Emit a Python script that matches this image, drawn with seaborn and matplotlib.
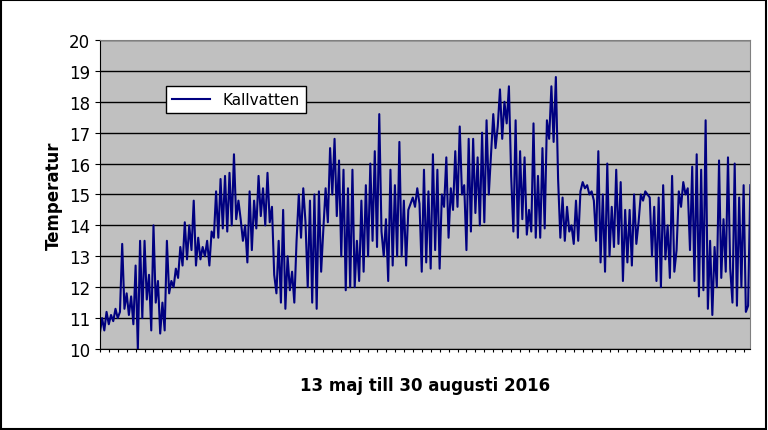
import matplotlib
matplotlib.use('Agg')
import matplotlib.pyplot as plt
import seaborn as sns
import pandas as pd

# hand read temperature swings, in time order (13 maj - 30 aug 2016)
seg1 = [10.5,11.0,10.6,11.2,10.8,11.1,10.9,11.3,11.0,11.2]
seg2 = [13.4,11.3,11.8,11.1,11.7,10.8,12.7,10.0,13.5,11.0,13.5,11.6,12.4,10.6,14.0,11.5,12.2,10.5,11.5,10.6,13.5,11.8]
seg3 = [12.2,12.0,12.6,12.3,13.3,12.7,14.1,12.9,14.0,13.2,14.8,12.7,13.6,12.9,13.3,13.0,13.5,12.7,13.8,13.6,15.1,13.6,15.5,13.9,15.6,13.8,15.7,14.0,16.3,14.2,14.8]
seg4 = [14.2,13.5,14.0,12.8,15.1,13.2,14.8,13.9,15.6,14.3,15.2,14.0,15.7,14.1,14.6,12.4]
seg5 = [11.8,13.5,11.5,14.5,11.3,13.0,11.9,12.5,11.5,13.5,15.0,13.6,15.2,14.1,12.0,14.8,11.5,15.0,11.3,15.1,12.5,13.9,15.2,14.1,16.5,15.0,16.8,14.3,16.1,13.0]
seg6 = [15.8,11.9,15.2,12.0,15.8,12.0,13.5,12.2,14.8,12.5,15.3,13.0,16.0,13.5,16.4,13.3,17.6,13.8,13.0,14.2,12.2,15.8,12.7,15.3,13.0]
seg7 = [16.7,13.0,14.8,12.7,14.5,14.7,14.9,14.6,15.2,14.7,12.5,15.8,12.8,15.1,12.6,16.3,13.2,15.8,12.6,15.0,14.6]
seg8 = [16.2,13.6,15.2,14.5,16.4,14.6,17.2,15.0,15.3,13.2,16.8,13.8,16.8,14.4,16.2,14.0,17.0,14.1,17.4,15.0,16.3,17.6,16.5,17.2]
seg9 = [18.4,16.8,18.0,17.3,18.5,15.6,13.8,17.4,13.6,16.4,14.2,16.2,13.7,14.5,13.8,17.3,13.6,15.6,13.6,16.5,13.9,17.4,16.8,18.5,16.7,18.8,15.5]
seg10 = [13.6,14.9,13.5,14.6,13.8,14.0,13.4,14.8,13.5,15.1,15.4,15.2,15.3,15.0,15.1,14.8,13.5,16.4,12.8,15.0,12.5,16.0,13.0,14.6,13.3,15.8,13.4,15.4,12.2]
seg11 = [14.5,12.8,14.5,12.7,15.0,13.4,14.1,15.0,14.8,15.1,15.0,14.9,13.0,14.6,12.2,14.9,12.0,15.3,12.9,14.0,12.3,15.6,12.5]
seg12 = [13.2,15.1,14.6,15.4,15.0,15.2,13.2,15.9,12.2,16.3,11.7,15.8,11.9,17.4,11.3,13.5,11.1,13.3,12.0]
seg13 = [16.1,12.3,14.2,12.5,16.2,12.6,11.5,16.0,11.4,14.9,12.0,15.3,11.2,11.4,15.3]

temps = seg1+seg2+seg3+seg4+seg5+seg6+seg7+seg8+seg9+seg10+seg11+seg12+seg13
df = pd.DataFrame({'t': range(len(temps)), 'Kallvatten': temps})

fig = plt.figure(figsize=(7.68, 4.31), dpi=100)
ax = fig.add_axes([0.130, 0.188, 0.847, 0.717])
ax.set_facecolor('#c0c0c0')
sns.lineplot(data=df, x='t', y='Kallvatten', color='#000080', linewidth=1.5, ax=ax, label='Kallvatten')

ax.set_ylim(10, 20)
ax.set_xlim(0, len(temps)-1)
ax.set_yticks(range(10, 21))
ax.tick_params(axis='y', labelsize=12)
ax.set_xticks(range(0, len(temps), 4))
ax.set_xticklabels([])
ax.tick_params(axis='x', length=2)
ax.grid(axis='y', color='black', linewidth=1)
ax.set_axisbelow(True)
for s in ['top', 'right']:
    ax.spines[s].set_color('#808080')
ax.set_xlabel('13 maj till 30 augusti 2016', fontsize=12, fontweight='bold', labelpad=14)
ax.set_ylabel('Temperatur', fontsize=12, fontweight='bold')
leg = ax.legend(loc='upper left', bbox_to_anchor=(0.09, 0.875), fontsize=11, fancybox=False,
                framealpha=1, edgecolor='black', handlelength=2.5)

fig.patches.append(plt.Rectangle((0.001, 0.002), 0.997, 0.995, transform=fig.transFigure,
                                 fill=False, edgecolor='black', linewidth=1.5))
fig.savefig('out.png')
